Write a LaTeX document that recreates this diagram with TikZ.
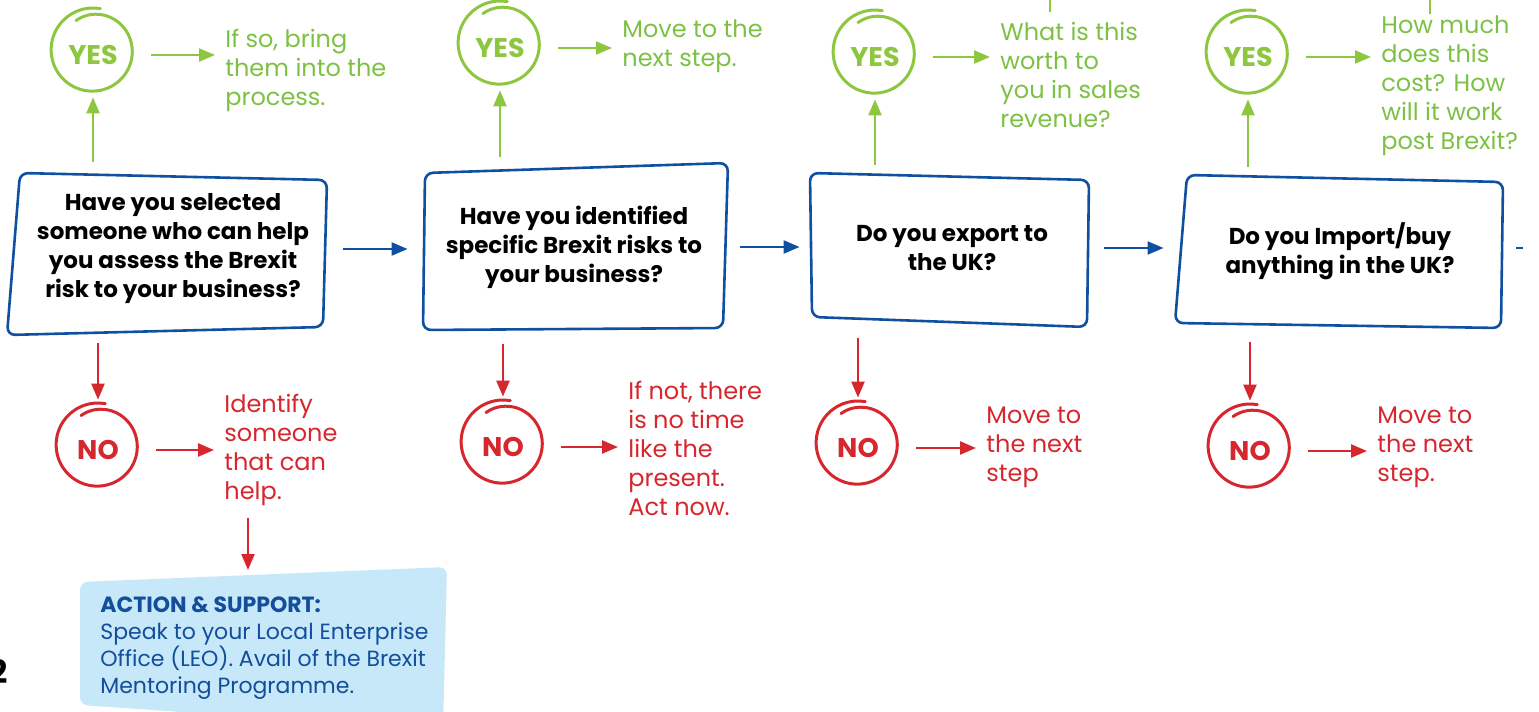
\documentclass[tikz,border=0pt]{standalone}
\usepackage{fontspec}
\setmainfont{Poppins}
\usetikzlibrary{arrows.meta}

\definecolor{yesgreen}{RGB}{141,198,63}
\definecolor{yestext}{RGB}{124,193,68}
\definecolor{nored}{RGB}{214,38,46}
\definecolor{stepblue}{RGB}{16,80,160}
\definecolor{helpfill}{RGB}{199,232,248}
\definecolor{helpblue}{RGB}{18,78,156}

\tikzset{
  question/.style={rectangle, inner sep=0pt, align=center,
    font=\bfseries\fontsize{11.5}{14.5}\selectfont},
  outline/.style={draw=stepblue, line width=1.3pt, rounded corners=4pt},
  answer/.style={circle, inner sep=0pt, minimum size=40pt,
    font=\bfseries\fontsize{13.5}{14}\selectfont},
  note/.style={anchor=west, inner sep=0pt, align=left,
    font=\fontsize{12}{14.5}\selectfont},
  ringline/.style={line width=1.5pt, line cap=round},
  flow/.style={draw=stepblue, line width=1pt, -{Triangle[length=8pt,width=6.5pt]},
    shorten <=8pt, shorten >=8pt},
  yesline/.style={draw=yesgreen, line width=1.2pt},
  yesarrow/.style={yesline, -{Triangle[length=8pt,width=6.5pt]}},
  noarrow/.style={draw=nored, line width=1.2pt, -{Triangle[length=8pt,width=6.5pt]}}
}

% hand drawn loop round a YES / NO node
\newcommand{\hoop}[2]{%
  \draw[#2, ringline, shift={(#1)}, yshift=2.5pt]
    plot[smooth, samples=50, domain=80:480] ({-\x}:{42-8*((\x-80)/400)^3});}

\begin{document}
\begin{tikzpicture}[x=0.5pt, y=-0.5pt]
\useasboundingbox (0,0) rectangle (1539,712);

% question boxes
\draw[outline] (20,173) -- (327,180) -- (323,327) -- (7,335) -- cycle;
\draw[outline] (425,173) -- (728,163) -- (723,328) -- (423,330) -- cycle;
\draw[outline] (810,173) -- (1089,180) -- (1087,327) -- (812,317) -- cycle;
\draw[outline] (1187,175) -- (1503,182) -- (1501,328) -- (1175,323) -- cycle;

\node[question, minimum width=154pt, minimum height=76pt] (q1) at (173,249)
  {Have you selected\\someone who can help\\you assess the Brexit\\risk to your business?};
\node[question, minimum width=150pt, minimum height=79pt] (q2) at (574,247)
  {Have you identified\\specific Brexit risks to\\your business?};
\node[question, minimum width=136pt, minimum height=72pt] (q3) at (952,248)
  {Do you export to\\the UK?};
\node[question, minimum width=160pt, minimum height=73pt] (q4) at (1340,251)
  {Do you Import/buy\\anything in the UK?};

\draw[flow] (q1.east) -- (q1.east -| q2.west);
\draw[flow] (q2.east) -- (q2.east -| q3.west);
\draw[flow] (q3.east) -- (q3.east -| q4.west);
\coordinate (onward) at (1539,248);
\draw[flow, -] (q4.east |- onward) -- (onward);

% YES branch
\node[answer, text=yesgreen] (y1) at (93,55) {YES};
\node[answer, text=yesgreen] (y2) at (500,48) {YES};
\node[answer, text=yesgreen] (y3) at (875,57) {YES};
\node[answer, text=yesgreen] (y4) at (1248,57) {YES};
\hoop{y1}{yesgreen}
\hoop{y2}{yesgreen}
\hoop{y3}{yesgreen}
\hoop{y4}{yesgreen}

\node[note, text=yestext] (t1) at (225,70) {If so, bring\\them into the\\process.};
\node[note, text=yestext] (t2) at (622,46) {Move to the\\next step.};
\node[note, text=yestext] (t3) at (1000,75) {What is this\\worth to\\you in sales\\revenue?};
\node[note, text=yestext] (t4) at (1381,86) {How much\\does this\\cost? How\\will it work\\post Brexit?};

\foreach \i in {1,...,4} {
  \draw[yesarrow, shorten <=5.5pt, shorten >=1pt] (q\i.north -| y\i) -- (y\i);
  \draw[yesarrow, shorten <=9pt, shorten >=5pt] (y\i.east) -- (y\i.east -| t\i.west);
}

% lines coming in from above
\coordinate (feed3) at (1050,0);
\coordinate (feed4) at (1430,0);
\draw[yesline, shorten >=5pt] (feed3) -- (feed3 |- t3.north);
\draw[yesline, shorten >=1pt] (feed4) -- (feed4 |- t4.north);

% NO branch
\node[answer, text=nored] (n1) at (98,450) {NO};
\node[answer, text=nored] (n2) at (503,447) {NO};
\node[answer, text=nored] (n3) at (858,448) {NO};
\node[answer, text=nored] (n4) at (1250,451) {NO};
\hoop{n1}{nored}
\hoop{n2}{nored}
\hoop{n3}{nored}
\hoop{n4}{nored}

\node[note, text=nored] (r1) at (224,450) {Identify\\someone\\that can\\help.};
\node[note, text=nored] (r2) at (628,448) {If not, there\\is no time\\like the\\present.\\Act now.};
\node[note, text=nored] (r3) at (986,447) {Move to\\the next\\step};
\node[note, text=nored] (r4) at (1377,447) {Move to\\the next\\step.};

\foreach \i in {1,...,4} {
  \draw[noarrow, shorten <=9pt, shorten >=5pt] (q\i.south -| n\i) -- (n\i);
  \draw[noarrow, shorten <=9pt, shorten >=5pt] (n\i.east) -- (n\i.east -| r\i.west);
}

% action and support
\fill[helpfill, rounded corners=4pt] (80,582) -- (447,567) -- (443,730) -- (80,705) -- cycle;
\node[anchor=north west, inner sep=0pt, align=left, text=helpblue,
  font=\fontsize{11}{13.5}\selectfont] (act) at (100,596)
  {\textbf{ACTION \& SUPPORT:}\\Speak to your Local Enterprise\\Office (LEO). Avail of the Brexit\\Mentoring Programme.};
\draw[noarrow, shorten <=6pt, shorten >=13pt]
  ([xshift=12pt]r1.south west) -- ([xshift=12pt]r1.south west |- act.north);

% page number
\node[anchor=east, inner sep=0pt, font=\bfseries\fontsize{16}{16}\selectfont] (pg) at (8,672) {2};
\end{tikzpicture}
\end{document}
